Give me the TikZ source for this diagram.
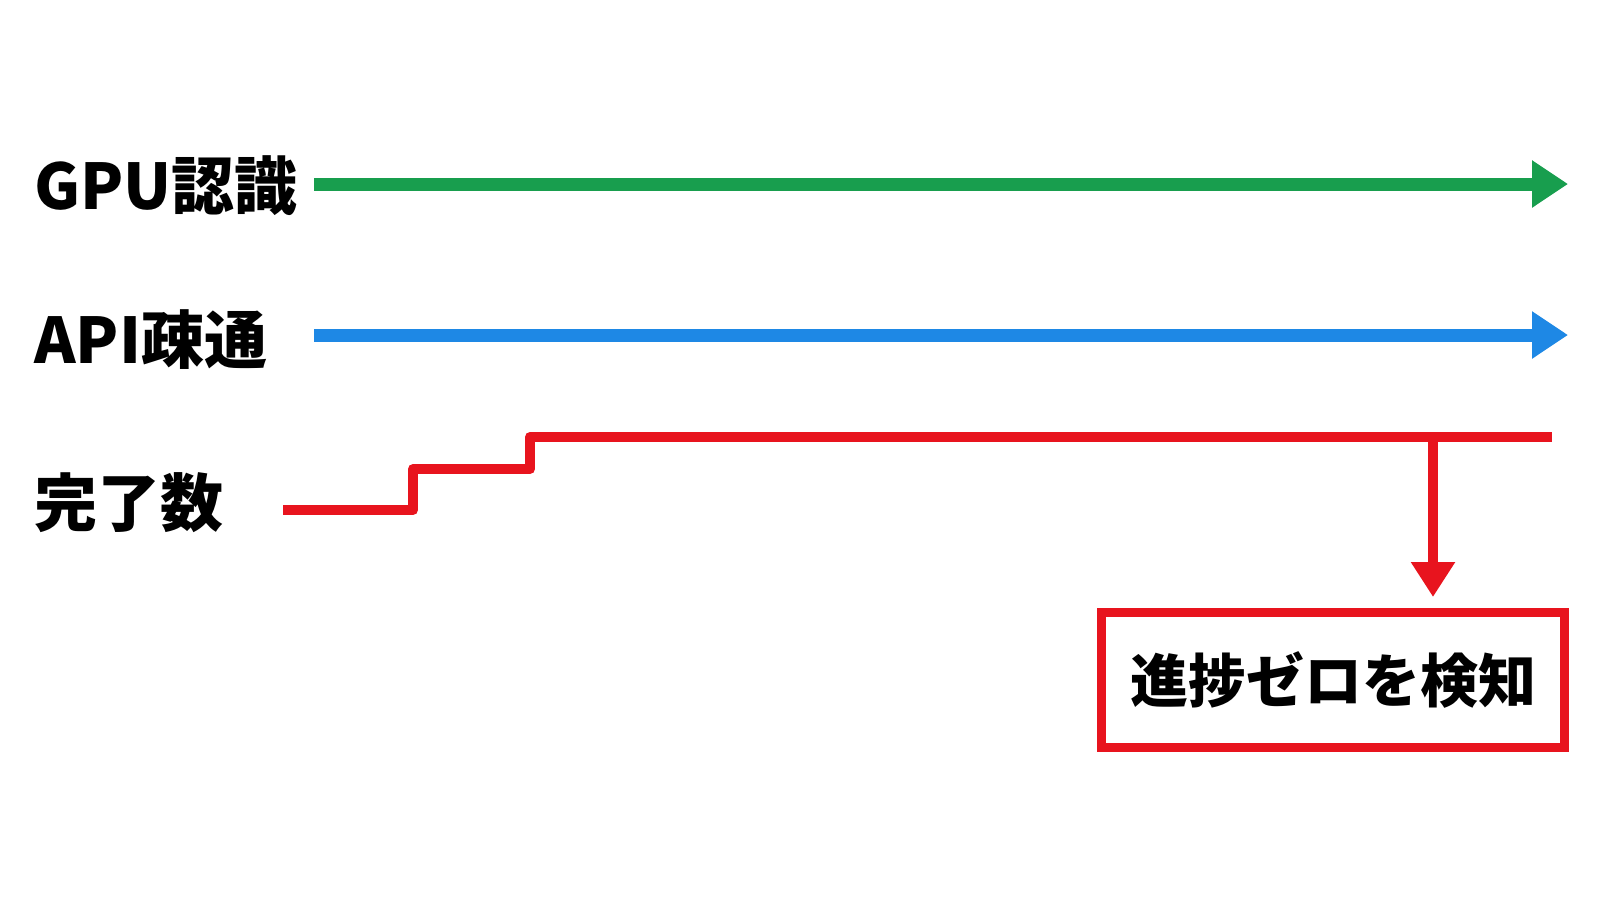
\documentclass[tikz,border=0pt]{standalone}
\usepackage{fontspec}
\newfontfamily\jp{Noto Sans CJK JP}
\usetikzlibrary{arrows.meta}
\definecolor{cgreen}{RGB}{24,158,78}
\definecolor{cblue}{RGB}{30,136,229}
\definecolor{cred}{RGB}{232,20,30}
\tikzset{
  lbl/.style={anchor=base west, inner sep=0pt, text=black, font=\jp\bfseries\fontsize{31.5pt}{36pt}\selectfont},
  track/.style={line width=6.5pt, -{Triangle[length=18pt,width=22.5pt]}},
  stepline/.style={draw=cred, line width=5pt, line join=round},
  droparrow/.style={draw=cred, line width=5pt, -{Triangle[length=17.5pt,width=21pt]}},
  alertbox/.style={draw=cred, line width=4.8pt, fill=white, minimum width=231.5pt, minimum height=67.5pt, inner sep=0pt, text=black, font=\jp\bfseries\fontsize{29pt}{34pt}\selectfont},
}
\begin{document}
\begin{tikzpicture}[x=0.5pt,y=-0.5pt]
  \useasboundingbox[fill=white] (0,0) rectangle (1600,900);
  % labels
  \node[lbl] (gpu) at (34,209) {GPU認識};
  \node[lbl] (api) at (34,363) {API疎通};
  \node[lbl] (done) at (34,526) {完了数};
  % green and blue tracks
  \coordinate (gs) at (314,184);
  \coordinate (ge) at (1568,184);
  \draw[track, cgreen] (gs) -- (ge);
  \coordinate (bs) at (314,335);
  \coordinate (be) at (1568,335);
  \draw[track, cblue] (bs) -- (be);
  % red step line
  \coordinate (r0) at (283,510);
  \coordinate (s1) at (413,469);
  \coordinate (s2) at (530,437);
  \coordinate (r1) at (1552,437);
  \draw[stepline] (r0) -| (s1) -| (s2) -- (r1);
  % alert box and drop arrow
  \node[alertbox] (box) at (1333,680) {進捗ゼロを検知};
  \coordinate (drop) at (1433,437);
  \coordinate (tip) at (1433,597);
  \draw[droparrow] (drop) -- (tip);
\end{tikzpicture}
\end{document}
